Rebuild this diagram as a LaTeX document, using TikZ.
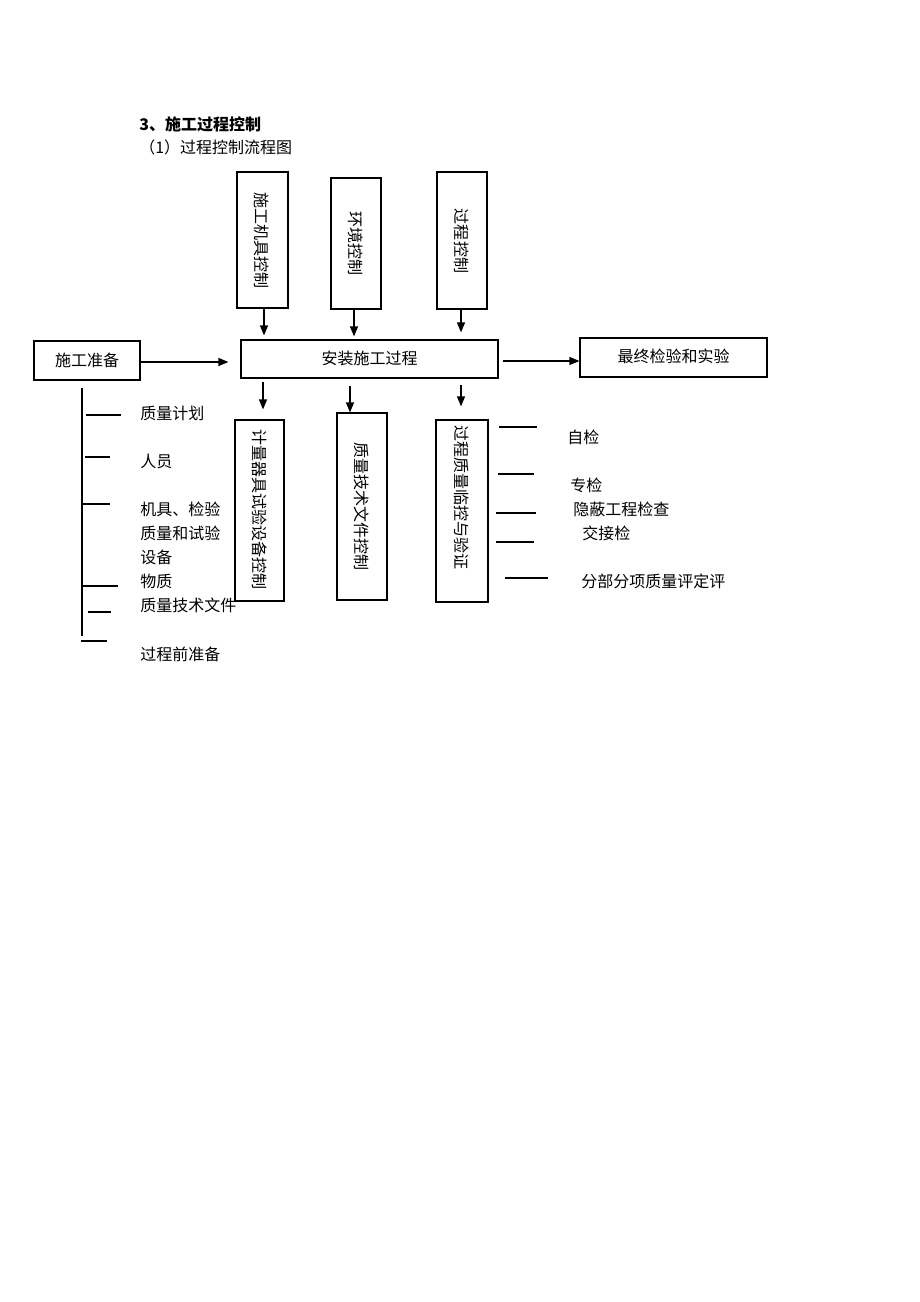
\documentclass[tikz,border=0pt]{standalone}
\usepackage{fontspec}
\setmainfont{Noto Sans CJK SC}
\usetikzlibrary{arrows.meta,calc}
\newlength\px
\setlength\px{0.75pt}
\tikzset{
  box/.style={draw, line width=0.9pt, inner sep=0pt, rectangle},
  arr/.style={-{Triangle[length=7.5pt,width=6pt]}, line width=0.9pt},
  ln/.style={line width=0.9pt},
  txt/.style={font=\fontsize{12pt}{14pt}\selectfont, inner sep=0pt},
  vtxt/.style={txt, rotate=-90},
}
\begin{document}
\begin{tikzpicture}[x=0.75pt,y=-0.75pt]
\useasboundingbox (0,0) rectangle (920,1302);
% titles
\node[txt, anchor=west] (title) at (139,124) {\bfseries 3、施工过程控制};
\node[txt, anchor=west] (sub) at (139,147) {（1）过程控制流程图};
% top boxes
\node[box, minimum width=51\px, minimum height=136\px] (m1) at (262.5,240) {};
\node[box, minimum width=50\px, minimum height=131\px] (m2) at (356,243.5) {};
\node[box, minimum width=50\px, minimum height=137\px] (m3) at (462,240.5) {};
\node[vtxt] (m1t) at (262,240) {施工机具控制};
\node[vtxt] (m2t) at (356,243) {环境控制};
\node[vtxt] (m3t) at (462,241) {过程控制};
% middle row
\node[box, minimum width=257\px, minimum height=38\px] (main) at (369.5,359) {};
\node[txt] (maint) at (369.5,358) {安装施工过程};
\node[box, minimum width=106\px, minimum height=39\px] (prep) at (87,360.5) {};
\node[txt] (prept) at (87,360) {施工准备};
\node[box, minimum width=187\px, minimum height=39\px] (final) at (673.5,357.5) {};
\node[txt] (finalt) at (673.5,356) {最终检验和实验};
% bottom boxes
\node[box, minimum width=49\px, minimum height=181\px] (b1) at (259.5,510.5) {};
\node[box, minimum width=50\px, minimum height=187\px] (b2) at (362,506.5) {};
\node[box, minimum width=52\px, minimum height=182\px] (b3) at (462,511) {};
\node[vtxt] (b1t) at (259.5,509) {计量器具试验设备控制};
\node[vtxt] (b2t) at (362,506) {质量技术文件控制};
\node[vtxt] (b3t) at (462,497) {过程质量临控与验证};
% arrows top -> main
\draw[arr, shorten >=4\px] ([xshift=1.5\px]m1.south) -- ([xshift=1.5\px]m1.south |- main.north);
\draw[arr, shorten >=3\px] ([xshift=-2\px]m2.south) -- ([xshift=-2\px]m2.south |- main.north);
\draw[arr, shorten >=7\px] ([xshift=-1\px]m3.south) -- ([xshift=-1\px]m3.south |- main.north);
% horizontal arrows
\draw[arr, shorten <=-1\px, shorten >=12\px] ([yshift=-1.5\px]prep.east) -- ([yshift=-1.5\px]prep.east -| main.west);
\draw[arr, shorten <=4\px] ([yshift=-2\px]main.east) -- ([yshift=-2\px]main.east -| final.west);
% arrows main -> bottom
\draw[arr, shorten <=3\px, shorten >=10\px] ([xshift=3.5\px]b1.north |- main.south) -- ([xshift=3.5\px]b1.north);
\draw[arr, shorten <=7\px] ([xshift=-12\px]b2.north |- main.south) -- ([xshift=-12\px]b2.north);
\draw[arr, shorten <=6\px, shorten >=13\px] ([xshift=-1\px]b3.north |- main.south) -- ([xshift=-1\px]b3.north);
% left bracket
\draw[ln] (82,388) -- (82,636);
\draw[ln] (86,415) -- (121,415);
\draw[ln] (85,457) -- (110,457);
\draw[ln] (83,504) -- (110,504);
\draw[ln] (82,586) -- (118,586);
\draw[ln] (88,612) -- (111,612);
\draw[ln] (81,641) -- (107,641);
\node[txt, anchor=west] (l1) at (140,413) {质量计划};
\node[txt, anchor=west] (l2) at (140,461) {人员};
\node[txt, anchor=west] (l3) at (140,509) {机具、检验};
\node[txt, anchor=west] (l4) at (140,533) {质量和试验};
\node[txt, anchor=west] (l5) at (140,557) {设备};
\node[txt, anchor=west] (l6) at (140,581) {物质};
\node[txt, anchor=west] (l7) at (140,605) {质量技术文件};
\node[txt, anchor=west] (l8) at (140,654) {过程前准备};
% right ticks
\draw[ln] (499,427) -- (537,427);
\draw[ln] (498,474) -- (534,474);
\draw[ln] (496,513) -- (536,513);
\draw[ln] (496,542) -- (534,542);
\draw[ln] (505,578) -- (548,578);
\node[txt, anchor=west] (r1) at (567,437) {自检};
\node[txt, anchor=west] (r2) at (570,485) {专检};
\node[txt, anchor=west] (r3) at (573,509) {隐蔽工程检查};
\node[txt, anchor=west] (r4) at (582,533) {交接检};
\node[txt, anchor=west] (r5) at (581,581) {分部分项质量评定评};
\end{tikzpicture}
\end{document}
